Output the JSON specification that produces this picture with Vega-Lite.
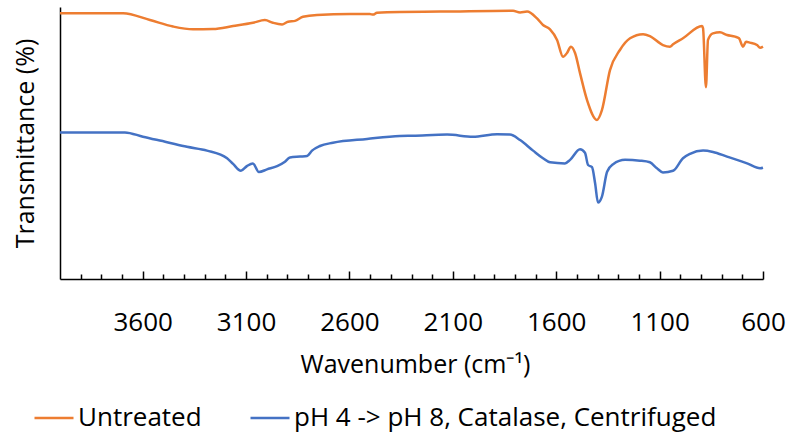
{
  "$schema": "https://vega.github.io/schema/vega-lite/v6.json",
  "width": 703,
  "height": 272,
  "autosize": "none",
  "padding": {"left": 60, "top": 7, "right": 28, "bottom": 157},
  "background": "white",
  "config": {
    "view": {"stroke": null},
    "font": "Open Sans",
    "axis": {"grid": false, "domainColor": "black", "tickColor": "black", "labelColor": "black", "titleColor": "black", "titleFontWeight": "normal"}
  },
  "datasets": {
    "spectra": [
      {"series": "Untreated", "wn": 4000, "t": 97.7},
      {"series": "Untreated", "wn": 3695, "t": 97.7},
      {"series": "Untreated", "wn": 3565, "t": 95.2},
      {"series": "Untreated", "wn": 3453, "t": 92.8},
      {"series": "Untreated", "wn": 3357, "t": 91.8},
      {"series": "Untreated", "wn": 3260, "t": 91.9},
      {"series": "Untreated", "wn": 3163, "t": 93.0},
      {"series": "Untreated", "wn": 3067, "t": 94.2},
      {"series": "Untreated", "wn": 3009, "t": 95.2},
      {"series": "Untreated", "wn": 2970, "t": 94.2},
      {"series": "Untreated", "wn": 2926, "t": 93.6},
      {"series": "Untreated", "wn": 2897, "t": 94.6},
      {"series": "Untreated", "wn": 2863, "t": 94.9},
      {"series": "Untreated", "wn": 2825, "t": 96.4},
      {"series": "Untreated", "wn": 2757, "t": 97.1},
      {"series": "Untreated", "wn": 2597, "t": 97.4},
      {"series": "Untreated", "wn": 2501, "t": 97.4},
      {"series": "Untreated", "wn": 2486, "t": 97.2},
      {"series": "Untreated", "wn": 2467, "t": 97.9},
      {"series": "Untreated", "wn": 2356, "t": 98.2},
      {"series": "Untreated", "wn": 2162, "t": 98.3},
      {"series": "Untreated", "wn": 1809, "t": 98.6},
      {"series": "Untreated", "wn": 1775, "t": 98.0},
      {"series": "Untreated", "wn": 1741, "t": 98.3},
      {"series": "Untreated", "wn": 1693, "t": 95.8},
      {"series": "Untreated", "wn": 1664, "t": 93.4},
      {"series": "Untreated", "wn": 1630, "t": 91.8},
      {"series": "Untreated", "wn": 1596, "t": 87.9},
      {"series": "Untreated", "wn": 1567, "t": 81.7},
      {"series": "Untreated", "wn": 1548, "t": 83.1},
      {"series": "Untreated", "wn": 1529, "t": 85.4},
      {"series": "Untreated", "wn": 1509, "t": 83.1},
      {"series": "Untreated", "wn": 1485, "t": 75.7},
      {"series": "Untreated", "wn": 1451, "t": 65.8},
      {"series": "Untreated", "wn": 1403, "t": 58.5},
      {"series": "Untreated", "wn": 1379, "t": 62.1},
      {"series": "Untreated", "wn": 1340, "t": 76.8},
      {"series": "Untreated", "wn": 1292, "t": 84.2},
      {"series": "Untreated", "wn": 1243, "t": 88.5},
      {"series": "Untreated", "wn": 1180, "t": 90.0},
      {"series": "Untreated", "wn": 1147, "t": 89.3},
      {"series": "Untreated", "wn": 1084, "t": 86.0},
      {"series": "Untreated", "wn": 1050, "t": 85.4},
      {"series": "Untreated", "wn": 1035, "t": 86.3},
      {"series": "Untreated", "wn": 987, "t": 88.5},
      {"series": "Untreated", "wn": 895, "t": 93.0},
      {"series": "Untreated", "wn": 890, "t": 92.2},
      {"series": "Untreated", "wn": 876, "t": 70.5},
      {"series": "Untreated", "wn": 866, "t": 87.9},
      {"series": "Untreated", "wn": 842, "t": 90.3},
      {"series": "Untreated", "wn": 808, "t": 90.7},
      {"series": "Untreated", "wn": 774, "t": 89.7},
      {"series": "Untreated", "wn": 735, "t": 89.1},
      {"series": "Untreated", "wn": 716, "t": 88.5},
      {"series": "Untreated", "wn": 697, "t": 85.4},
      {"series": "Untreated", "wn": 682, "t": 87.2},
      {"series": "Untreated", "wn": 663, "t": 86.9},
      {"series": "Untreated", "wn": 629, "t": 86.0},
      {"series": "Untreated", "wn": 614, "t": 85.0},
      {"series": "Untreated", "wn": 600, "t": 85.4},
      {"series": "pH 4 -> pH 8, Catalase, Centrifuged", "wn": 4000, "t": 53.9},
      {"series": "pH 4 -> pH 8, Catalase, Centrifuged", "wn": 3686, "t": 53.9},
      {"series": "pH 4 -> pH 8, Catalase, Centrifuged", "wn": 3599, "t": 52.3},
      {"series": "pH 4 -> pH 8, Catalase, Centrifuged", "wn": 3482, "t": 50.3},
      {"series": "pH 4 -> pH 8, Catalase, Centrifuged", "wn": 3386, "t": 48.6},
      {"series": "pH 4 -> pH 8, Catalase, Centrifuged", "wn": 3289, "t": 47.2},
      {"series": "pH 4 -> pH 8, Catalase, Centrifuged", "wn": 3192, "t": 44.4},
      {"series": "pH 4 -> pH 8, Catalase, Centrifuged", "wn": 3163, "t": 42.3},
      {"series": "pH 4 -> pH 8, Catalase, Centrifuged", "wn": 3125, "t": 39.8},
      {"series": "pH 4 -> pH 8, Catalase, Centrifuged", "wn": 3096, "t": 41.5},
      {"series": "pH 4 -> pH 8, Catalase, Centrifuged", "wn": 3067, "t": 42.5},
      {"series": "pH 4 -> pH 8, Catalase, Centrifuged", "wn": 3038, "t": 39.3},
      {"series": "pH 4 -> pH 8, Catalase, Centrifuged", "wn": 2999, "t": 40.3},
      {"series": "pH 4 -> pH 8, Catalase, Centrifuged", "wn": 2950, "t": 41.5},
      {"series": "pH 4 -> pH 8, Catalase, Centrifuged", "wn": 2912, "t": 43.1},
      {"series": "pH 4 -> pH 8, Catalase, Centrifuged", "wn": 2888, "t": 44.7},
      {"series": "pH 4 -> pH 8, Catalase, Centrifuged", "wn": 2839, "t": 45.0},
      {"series": "pH 4 -> pH 8, Catalase, Centrifuged", "wn": 2805, "t": 45.2},
      {"series": "pH 4 -> pH 8, Catalase, Centrifuged", "wn": 2781, "t": 47.2},
      {"series": "pH 4 -> pH 8, Catalase, Centrifuged", "wn": 2743, "t": 48.9},
      {"series": "pH 4 -> pH 8, Catalase, Centrifuged", "wn": 2680, "t": 50.1},
      {"series": "pH 4 -> pH 8, Catalase, Centrifuged", "wn": 2515, "t": 51.5},
      {"series": "pH 4 -> pH 8, Catalase, Centrifuged", "wn": 2356, "t": 52.6},
      {"series": "pH 4 -> pH 8, Catalase, Centrifuged", "wn": 2293, "t": 52.7},
      {"series": "pH 4 -> pH 8, Catalase, Centrifuged", "wn": 2128, "t": 53.1},
      {"series": "pH 4 -> pH 8, Catalase, Centrifuged", "wn": 2003, "t": 52.3},
      {"series": "pH 4 -> pH 8, Catalase, Centrifuged", "wn": 1886, "t": 53.2},
      {"series": "pH 4 -> pH 8, Catalase, Centrifuged", "wn": 1824, "t": 53.1},
      {"series": "pH 4 -> pH 8, Catalase, Centrifuged", "wn": 1775, "t": 51.1},
      {"series": "pH 4 -> pH 8, Catalase, Centrifuged", "wn": 1712, "t": 47.2},
      {"series": "pH 4 -> pH 8, Catalase, Centrifuged", "wn": 1664, "t": 44.4},
      {"series": "pH 4 -> pH 8, Catalase, Centrifuged", "wn": 1630, "t": 42.9},
      {"series": "pH 4 -> pH 8, Catalase, Centrifuged", "wn": 1558, "t": 42.5},
      {"series": "pH 4 -> pH 8, Catalase, Centrifuged", "wn": 1533, "t": 43.8},
      {"series": "pH 4 -> pH 8, Catalase, Centrifuged", "wn": 1485, "t": 47.7},
      {"series": "pH 4 -> pH 8, Catalase, Centrifuged", "wn": 1461, "t": 46.4},
      {"series": "pH 4 -> pH 8, Catalase, Centrifuged", "wn": 1446, "t": 41.9},
      {"series": "pH 4 -> pH 8, Catalase, Centrifuged", "wn": 1427, "t": 41.1},
      {"series": "pH 4 -> pH 8, Catalase, Centrifuged", "wn": 1412, "t": 35.2},
      {"series": "pH 4 -> pH 8, Catalase, Centrifuged", "wn": 1398, "t": 28.1},
      {"series": "pH 4 -> pH 8, Catalase, Centrifuged", "wn": 1379, "t": 30.3},
      {"series": "pH 4 -> pH 8, Catalase, Centrifuged", "wn": 1354, "t": 39.4},
      {"series": "pH 4 -> pH 8, Catalase, Centrifuged", "wn": 1325, "t": 42.2},
      {"series": "pH 4 -> pH 8, Catalase, Centrifuged", "wn": 1267, "t": 43.8},
      {"series": "pH 4 -> pH 8, Catalase, Centrifuged", "wn": 1195, "t": 43.5},
      {"series": "pH 4 -> pH 8, Catalase, Centrifuged", "wn": 1147, "t": 42.9},
      {"series": "pH 4 -> pH 8, Catalase, Centrifuged", "wn": 1113, "t": 40.7},
      {"series": "pH 4 -> pH 8, Catalase, Centrifuged", "wn": 1084, "t": 39.2},
      {"series": "pH 4 -> pH 8, Catalase, Centrifuged", "wn": 1035, "t": 39.8},
      {"series": "pH 4 -> pH 8, Catalase, Centrifuged", "wn": 987, "t": 44.4},
      {"series": "pH 4 -> pH 8, Catalase, Centrifuged", "wn": 953, "t": 46.0},
      {"series": "pH 4 -> pH 8, Catalase, Centrifuged", "wn": 890, "t": 47.2},
      {"series": "pH 4 -> pH 8, Catalase, Centrifuged", "wn": 842, "t": 46.7},
      {"series": "pH 4 -> pH 8, Catalase, Centrifuged", "wn": 774, "t": 45.0},
      {"series": "pH 4 -> pH 8, Catalase, Centrifuged", "wn": 726, "t": 43.8},
      {"series": "pH 4 -> pH 8, Catalase, Centrifuged", "wn": 677, "t": 42.5},
      {"series": "pH 4 -> pH 8, Catalase, Centrifuged", "wn": 614, "t": 40.7},
      {"series": "pH 4 -> pH 8, Catalase, Centrifuged", "wn": 600, "t": 40.9}
    ]
  },
  "data": {"name": "spectra"},
  "resolve": {"axis": {"x": "independent"}},
  "layer": [
    {
      "mark": {"type": "line", "strokeWidth": 2.5, "interpolate": "monotone"},
      "encoding": {
        "x": {
          "field": "wn", "type": "quantitative",
          "scale": {"domain": [600, 4000], "reverse": true, "nice": false, "zero": false},
          "axis": {
            "orient": "bottom",
            "values": [3600, 3100, 2600, 2100, 1600, 1100, 600],
            "format": "d",
            "domainWidth": 1.5,
            "tickSize": -8, "tickWidth": 1.5,
            "labelFontSize": 26, "labelBaseline": "alphabetic", "labelPadding": 59,
            "labelFlush": false, "labelOverlap": false,
            "title": "Wavenumber (cm⁻¹)", "titleFontSize": 25,
            "titleBaseline": "alphabetic", "titleY": 93, "titleX": 355
          }
        },
        "y": {
          "field": "t", "type": "quantitative",
          "scale": {"domain": [0, 100], "nice": false, "zero": false},
          "axis": {
            "ticks": false, "labels": false, "domainWidth": 1.5,
            "title": "Transmittance (%)", "titleFontSize": 25, "titlePadding": 22
          }
        },
        "color": {
          "field": "series", "type": "nominal",
          "scale": {
            "domain": ["Untreated", "pH 4 -> pH 8, Catalase, Centrifuged"],
            "range": ["#ED7D31", "#4472C4"]
          },
          "legend": {
            "title": null, "orient": "none", "direction": "horizontal",
            "legendX": -27, "legendY": 390, "padding": 0,
            "symbolType": "stroke", "symbolSize": 1521, "symbolStrokeWidth": 2.5,
            "labelFontSize": 26, "labelColor": "black", "labelOffset": 3,
            "labelLimit": 600, "columnPadding": 43
          }
        }
      }
    },
    {
      "mark": {"type": "line", "strokeOpacity": 0},
      "encoding": {
        "x": {
          "field": "wn", "type": "quantitative",
          "axis": {
            "orient": "bottom",
            "values": [3900, 3800, 3700, 3500, 3400, 3300, 3200, 3000, 2900, 2800, 2700, 2500, 2400, 2300, 2200, 2000, 1900, 1800, 1700, 1500, 1400, 1300, 1200, 1000, 900, 800, 700],
            "domain": false, "labels": false, "title": null,
            "tickSize": -5, "tickWidth": 1.5
          }
        },
        "y": {"field": "t", "type": "quantitative"},
        "detail": {"field": "series"}
      }
    }
  ]
}
